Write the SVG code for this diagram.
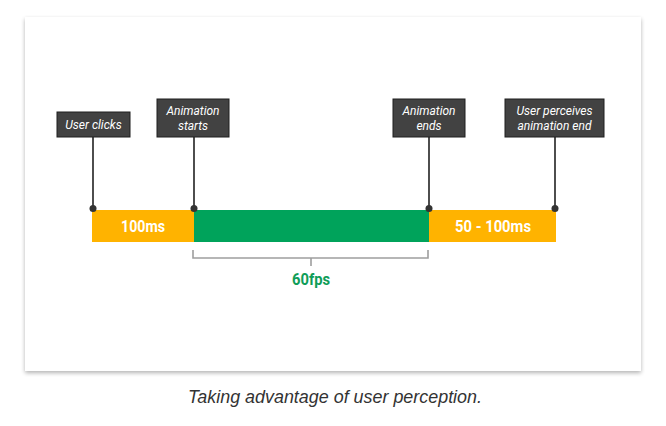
<svg xmlns="http://www.w3.org/2000/svg" width="666" height="426" viewBox="0 0 666 426">
<defs>
<filter id="sh" x="-5%" y="-5%" width="110%" height="115%">
<feGaussianBlur in="SourceAlpha" stdDeviation="2"/>
<feOffset dx="0" dy="1.5"/>
<feComponentTransfer><feFuncA type="linear" slope="0.3"/></feComponentTransfer>
<feMerge><feMergeNode/><feMergeNode in="SourceGraphic"/></feMerge>
</filter>
</defs>
<style>
.box{fill:#424242;stroke:#1e1e1e;stroke-width:1}
.lbl{font-family:Roboto,"Liberation Sans",sans-serif;font-style:italic;font-size:12px;fill:#ffffff;text-anchor:middle}
.stem{stroke:#212121;stroke-width:1.6}
.dot{fill:#333333}
.bartxt{font-family:Roboto,"Liberation Sans",sans-serif;font-weight:bold;font-size:16px;fill:#ffffff;text-anchor:middle}
.brk{fill:none;stroke:#9e9e9e;stroke-width:1.6}
</style>
<rect width="666" height="426" fill="#ffffff"/>
<rect x="25" y="17" width="616" height="354" fill="#ffffff" filter="url(#sh)"/>

<g id="bar">
<rect x="92" y="210" width="102" height="32" fill="#ffb300"/>
<rect x="194" y="210" width="235" height="32" fill="#00a35b"/>
<rect x="429" y="210" width="127" height="32" fill="#ffb300"/>
<text class="bartxt" x="143" y="232" textLength="44" lengthAdjust="spacingAndGlyphs">100ms</text>
<text class="bartxt" x="493" y="232" textLength="76" lengthAdjust="spacingAndGlyphs">50 - 100ms</text>
</g>

<g id="connectors">
<line class="stem" x1="93" y1="137" x2="93" y2="208"/>
<line class="stem" x1="194" y1="137" x2="194" y2="208"/>
<line class="stem" x1="429" y1="137" x2="429" y2="208"/>
<line class="stem" x1="555" y1="137" x2="555" y2="208"/>
<circle class="dot" cx="93" cy="208.5" r="3.5"/>
<circle class="dot" cx="194" cy="208.5" r="3.5"/>
<circle class="dot" cx="429" cy="208.5" r="3.5"/>
<circle class="dot" cx="555" cy="208.5" r="3.5"/>
<path class="brk" d="M193 250 V258 H428 V250 M311 258 V266"/>
</g>

<g id="user-clicks">
<rect class="box" x="57" y="112" width="73" height="25"/>
<text class="lbl" x="93.5" y="128.5">User clicks</text>
</g>
<g id="animation-starts">
<rect class="box" x="157" y="99" width="72" height="38"/>
<text class="lbl" x="193" y="115">Animation</text>
<text class="lbl" x="193" y="129.5">starts</text>
</g>
<g id="animation-ends">
<rect class="box" x="393" y="99" width="72" height="38"/>
<text class="lbl" x="429" y="115">Animation</text>
<text class="lbl" x="429" y="129.5">ends</text>
</g>
<g id="user-perceives">
<rect class="box" x="505" y="99" width="99" height="38"/>
<text class="lbl" x="554.5" y="115">User perceives</text>
<text class="lbl" x="554.5" y="129.5">animation end</text>
</g>

<g id="fps">
<text x="311" y="285" font-family="Roboto,'Liberation Sans',sans-serif" font-weight="bold" font-size="16" fill="#0f9d58" text-anchor="middle" textLength="38" lengthAdjust="spacingAndGlyphs">60fps</text>
</g>

<text x="335" y="403" font-family="'Liberation Sans',Arial,sans-serif" font-style="italic" font-size="18" fill="#333333" text-anchor="middle" textLength="294" lengthAdjust="spacingAndGlyphs">Taking advantage of user perception.</text>
</svg>
